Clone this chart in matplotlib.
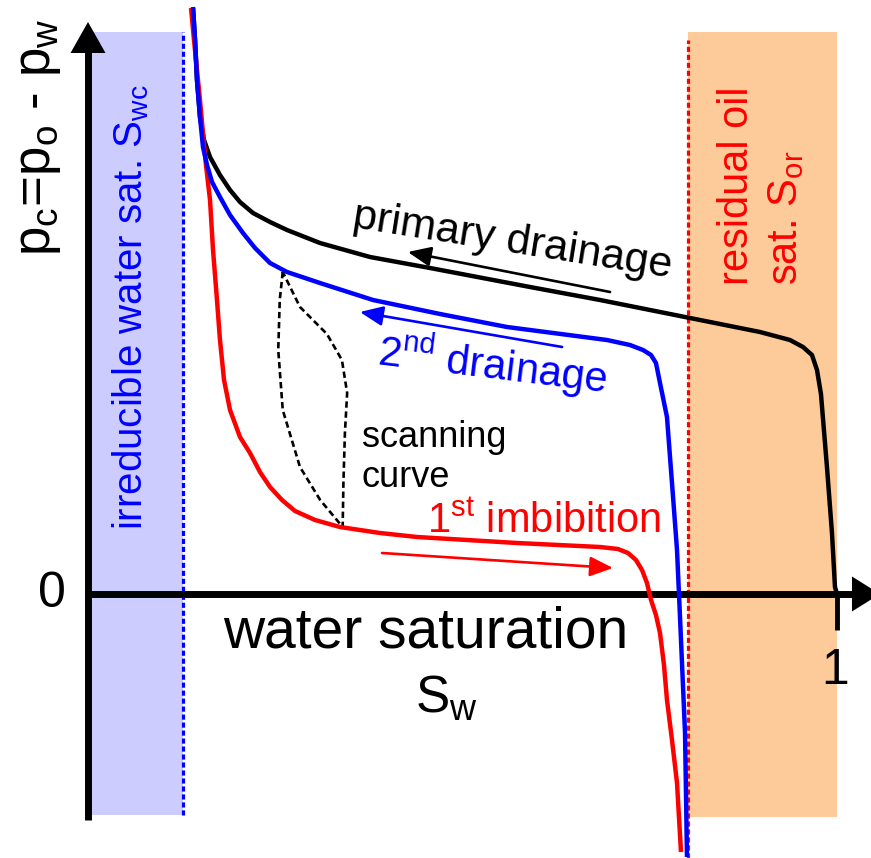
import numpy as np
import matplotlib
matplotlib.use('Agg')
import matplotlib.pyplot as plt

plt.rcParams['font.family'] = ['Liberation Sans', 'DejaVu Sans']
plt.rcParams['mathtext.fontset'] = 'custom'
plt.rcParams['mathtext.rm'] = 'Liberation Sans'
plt.rcParams['mathtext.it'] = 'Liberation Sans:italic'

# ---------------------------------------------------------
# data: water saturation Sw (0..1) vs capillary pressure pc (arbitrary units)
# ---------------------------------------------------------
s_wc = 0.127       # irreducible water saturation
s_or_edge = 0.801  # 1 - residual oil saturation

drain1_s = [0.1402, 0.1429, 0.1455, 0.1495, 0.1549, 0.1629, 0.1762, 0.1896, 0.2029, 0.2203,
            0.2430, 0.2657, 0.3097, 0.3765, 0.4566, 0.5901, 0.6836, 0.8171, 0.8972, 0.9372,
            0.9546, 0.9666, 0.9733, 0.9786, 0.9866, 0.9933, 0.9973, 1.0]
drain1_pc = [5.86, 5.54, 5.14, 4.77, 4.54, 4.37, 4.19, 4.04, 3.92, 3.81,
             3.72, 3.64, 3.51, 3.37, 3.26, 3.07, 2.94, 2.74, 2.62, 2.54,
             2.47, 2.39, 2.24, 2.00, 1.27, 0.61, 0.07, 0.0]

drain2_s = [0.1402, 0.1429, 0.1455, 0.1495, 0.1535, 0.1589, 0.1656, 0.1762, 0.1896, 0.2069,
            0.2230, 0.2430, 0.2657, 0.3097, 0.3805, 0.4700, 0.5594, 0.6929, 0.7236, 0.7410,
            0.7517, 0.7583, 0.7637, 0.7730, 0.7797, 0.7864, 0.7904, 0.7971, 0.7997]
drain2_pc = [5.87, 5.54, 5.14, 4.77, 4.47, 4.29, 4.12, 3.97, 3.79, 3.61,
             3.46, 3.31, 3.22, 3.11, 2.94, 2.80, 2.67, 2.54, 2.49, 2.44,
             2.39, 2.31, 2.11, 1.77, 1.11, 0.44, -0.23, -1.39, -2.63]

imb1_s = [0.1375, 0.1415, 0.1455, 0.1495, 0.1535, 0.1575, 0.1629, 0.1669, 0.1722, 0.1762,
          0.1816, 0.1896, 0.2029, 0.2163, 0.2296, 0.2430, 0.2590, 0.2764, 0.3031, 0.3364,
          0.3899, 0.4393, 0.5728, 0.6836, 0.7076, 0.7210, 0.7316, 0.7397, 0.7463, 0.7517,
          0.7583, 0.7637, 0.7690, 0.7730, 0.7797, 0.7864, 0.7917]
imb1_pc = [5.86, 5.54, 5.24, 4.94, 4.61, 4.29, 3.94, 3.44, 2.94, 2.54,
           2.14, 1.84, 1.57, 1.41, 1.22, 1.07, 0.94, 0.83, 0.74, 0.67,
           0.61, 0.57, 0.51, 0.47, 0.45, 0.41, 0.34, 0.24, 0.11, -0.06,
           -0.21, -0.39, -0.71, -1.06, -1.46, -1.89, -2.58]

# scanning loop between 2nd drainage and 1st imbibition
scan_s = [0.260, 0.256, 0.254, 0.260, 0.283, 0.310, 0.340,
          0.341, 0.343, 0.346, 0.339, 0.319, 0.283, 0.260]
scan_pc = [3.22, 2.94, 2.44, 1.84, 1.27, 0.94, 0.67,
           1.11, 1.61, 2.01, 2.34, 2.60, 2.87, 3.22]

# ---------------------------------------------------------
# figure (axes spans whole canvas, 749 px per unit in x, 100 px per unit in y)
# ---------------------------------------------------------
fig = plt.figure(figsize=(8.71, 8.58), dpi=100)
ax = fig.add_axes([0, 0, 1, 1])
ax.set_xlim(-0.1175, 1.0454)
ax.set_ylim(-2.64, 5.94)
ax.axis('off')

PX_X = 1 / 749.0
PX_Y = 1 / 100.0

# shaded bands
ax.fill_between([0, s_wc], -2.21, 5.62, color='#ccccff', lw=0, zorder=0)
ax.fill_between([s_or_edge, 1.0], -2.23, 5.62, color='#fdca99', lw=0, zorder=0)
ax.plot([s_wc, s_wc], [-2.21, 5.62], color='#0000ff', lw=2.3, dashes=(1.6, 0.9), zorder=1)
ax.plot([s_or_edge, s_or_edge], [-2.64, 5.54], color='#ff0000', lw=2.3, dashes=(1.6, 0.9), zorder=1)

# axes with arrow heads
ax.plot([0, 0], [-2.26, 5.45], color='black', lw=5, solid_capstyle='butt', zorder=3)
ax.plot([0, 1.03], [0, 0], color='black', lw=5, solid_capstyle='butt', zorder=3)
ax.plot([1.0, 1.0], [0, -0.36], color='black', lw=3.5, solid_capstyle='butt', zorder=3)
ax.fill([-17.5 * PX_X, 17.5 * PX_X, 0], [5.41, 5.41, 5.72], color='black', lw=0, zorder=4)
ax.fill([1.02, 1.02, 1.02 + 28 * PX_X], [17.5 * PX_Y, -17.5 * PX_Y, 0], color='black', lw=0, zorder=4)

# curves
curve_kw = dict(lw=3.2, solid_joinstyle='round', solid_capstyle='butt')
ax.plot(drain1_s, drain1_pc, color='black', zorder=5, **curve_kw)
ax.plot(imb1_s, imb1_pc, color='#ff0000', zorder=5, **curve_kw)
ax.plot(drain2_s, drain2_pc, color='#0000ff', zorder=6, **curve_kw)
ax.plot(scan_s, scan_pc, color='black', lw=1.9, dashes=(2.4, 1.4), zorder=4)

# direction arrows
arrow_kw = dict(arrowstyle='-|>,head_length=14,head_width=6', mutation_scale=1, lw=1.9,
                shrinkA=0, shrinkB=0)
ax.annotate('', xy=(0.427, 3.42), xytext=(0.697, 3.02),
            arrowprops=dict(color='black', **arrow_kw), zorder=7)
ax.annotate('', xy=(0.363, 2.82), xytext=(0.633, 2.47),
            arrowprops=dict(color='#0000ff', **arrow_kw), zorder=7)
ax.annotate('', xy=(0.701, 0.26), xytext=(0.3925, 0.41),
            arrowprops=dict(color='#ff0000', **arrow_kw), zorder=7)

# labels
ax.text(-0.0507, 4.57, r'p$\mathregular{_c}$=p$\mathregular{_o}$ - p$\mathregular{_w}$',
        fontsize=38, rotation=90, rotation_mode='anchor', ha='center', va='baseline')
ax.text(-0.048, 0.0, '0', fontsize=36, ha='center', va='center')
ax.text(0.997, -0.77, '1', fontsize=36, ha='center', va='center')
ax.text(0.4513, -0.54, 'water saturation', fontsize=41, ha='center', va='baseline')
ax.text(0.478, -1.19, r'S$\mathregular{_w}$', fontsize=37, ha='center', va='baseline')

ax.text(0.5648, 3.42, 'primary drainage', fontsize=31, rotation=-9,
        rotation_mode='anchor', ha='center', va='baseline', color='black')
ax.text(0.538, 2.15, r'2$\mathregular{^{nd}}$ drainage', fontsize=30, rotation=-7,
        rotation_mode='anchor', ha='center', va='baseline', color='#0000ff')
ax.text(0.4526, 0.61, r'1$\mathregular{^{st}}$ imbibition', fontsize=30,
        ha='left', va='baseline', color='#ff0000')
ax.text(0.3658, 1.47, 'scanning', fontsize=26, ha='left', va='baseline')
ax.text(0.3658, 1.07, 'curve', fontsize=26, ha='left', va='baseline')

ax.text(0.0721, 0.64, r'irreducible water sat. S$\mathregular{_{wc}}$', fontsize=29,
        rotation=90, rotation_mode='anchor', ha='left', va='baseline', color='#0000ff')
ax.text(0.8812, 3.09, 'residual oil', fontsize=30, rotation=90,
        rotation_mode='anchor', ha='left', va='baseline', color='#ff0000')
ax.text(0.9466, 3.09, r'sat. S$\mathregular{_{or}}$', fontsize=30, rotation=90,
        rotation_mode='anchor', ha='left', va='baseline', color='#ff0000')

fig.savefig('out.png', dpi=100)
